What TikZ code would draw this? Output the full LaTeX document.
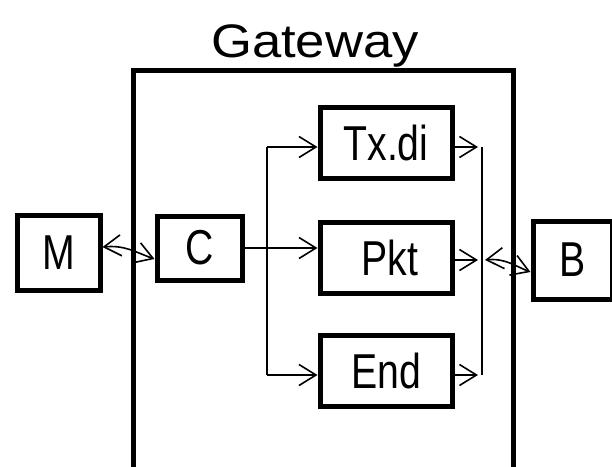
\documentclass[tikz,border=0pt]{standalone}
\usepackage{fontspec}
\setmainfont{Liberation Sans}
\newfontfamily\narrowfont{Liberation Sans}[FakeStretch=0.8]
\newfontfamily\wideFont{Liberation Sans}[FakeStretch=1.12]
\usetikzlibrary{arrows.meta}
\begin{document}
\begin{tikzpicture}[x=1pt,y=-1pt,
  blk/.style={draw,line width=5pt,inner sep=0pt,font=\narrowfont\fontsize{49}{49}\selectfont},
  conn/.style={line width=1.6pt,-{Straight Barb[length=17pt,width=21pt,line width=1.6pt]}},
  dconn/.style={line width=1.6pt,{Straight Barb[length=17pt,width=21pt,line width=1.6pt]}-{Straight Barb[length=17pt,width=21pt,line width=1.6pt]}},
  plain/.style={line width=1.6pt}]
\useasboundingbox (0,0) rectangle (612,466);
\clip (0,0) rectangle (612,466);
% gateway
\node[draw,line width=5pt,minimum width=380pt,minimum height=420pt,inner sep=0pt] (gw) at (323,280) {};
\node[font=\wideFont\fontsize{47}{47}\selectfont,anchor=base] (gwl) at (315,57) {Gateway};
% boxes
\node[blk,minimum width=83pt,minimum height=75pt] (M) at (58.5,252.5) {M};
\node[blk,minimum width=85pt,minimum height=64pt] (C) at (199.5,248) {C};
\node[blk,minimum width=132pt,minimum height=71pt] (tx) at (386,142.5) {Tx.di};
\node[blk,minimum width=132pt,minimum height=71pt] (pkt) at (386,257.5) {\hspace{8pt}Pkt};
\node[blk,minimum width=132pt,minimum height=71pt] (en) at (386,370.5) {End};
\node[blk,minimum width=79pt,minimum height=78pt] (B) at (572.5,260) {B};
% branch coordinates
\coordinate (bt) at (267,147);
\coordinate (bb) at (267,375);
\coordinate (rt) at (482,147);
\coordinate (rb) at (482,375);
% left fan-out
\draw[conn] (C.east) -- (C.east -| pkt.west);
\draw[plain] (bt) -- (bb);
\draw[conn] (bt) -- (bt -| tx.west);
\draw[conn] (bb) -- (bb -| en.west);
% right fan-in
\draw[plain] (rt) -- (rb);
\draw[conn,shorten >=4pt] (rt -| tx.east) -- (rt);
\draw[conn,shorten >=4pt] (tx.east |- 0,260) -- (482,260);
\draw[conn,shorten >=4pt] (rb -| en.east) -- (rb);
% double arrows
\coordinate (rm) at (485,260);
\draw[dconn] (M.east |- 0,247) .. controls (125,245) and (135,252) .. (C.west |- 0,259);
\draw[dconn] (rm) .. controls (505,258) and (515,266) .. (B.west |- 0,272);
\end{tikzpicture}
\end{document}
